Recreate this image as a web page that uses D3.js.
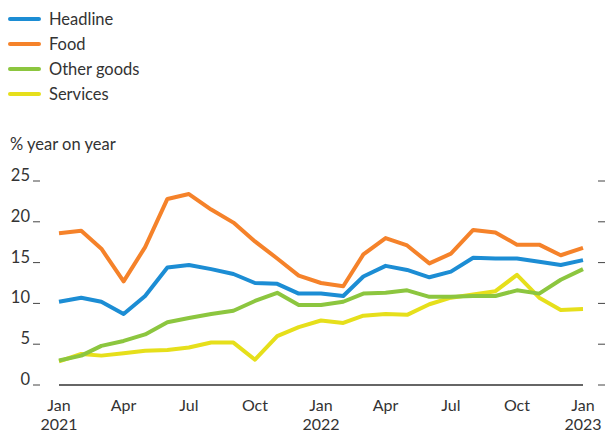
<!DOCTYPE html>
<html>
<head>
<meta charset="utf-8">
<script src="https://cdn.jsdelivr.net/npm/d3@7"></script>
<style>
  body { margin: 0; background: #fff; }
  text { font-family: Lato, "Open Sans", sans-serif; fill: #333; }
</style>
</head>
<body>
<div id="chart"></div>
<script>
// monthly, Jan 2021 - Jan 2023
let months = d3.range(25).map(i => new Date(2021, i, 1));

let headline = [10.2, 10.7, 10.2, 8.7, 10.9, 14.4, 14.7, 14.2, 13.6, 12.5, 12.4, 11.2,
    11.2, 10.9, 13.3, 14.6, 14.1, 13.2, 13.9, 15.6, 15.5, 15.5, 15.1, 14.7, 15.3];
let food = [18.6, 18.9, 16.7, 12.7, 16.9, 22.8, 23.4, 21.5, 19.9, 17.6, 15.5, 13.4,
    12.5, 12.1, 16.0, 18.0, 17.1, 14.9, 16.1, 19.0, 18.7, 17.2, 17.2, 15.9, 16.8];
let otherGoods = [3.0, 3.6, 4.8, 5.4, 6.2, 7.7, 8.2, 8.7, 9.1, 10.3, 11.3, 9.8,
    9.8, 10.2, 11.2, 11.3, 11.6, 10.8, 10.8, 10.9, 10.9, 11.6, 11.2, 12.9, 14.2];
let services = [2.9, 3.8, 3.6, 3.9, 4.2, 4.3, 4.6, 5.2, 5.2, 3.1, 6.0, 7.1,
    7.9, 7.6, 8.5, 8.7, 8.6, 9.9, 10.7, 11.1, 11.5, 13.5, 10.7, 9.2, 9.3];

let seriesNames = ["Headline", "Food", "Other goods", "Services"];
let seriesColors = ["#1c8dd4", "#f5822a", "#8cc63f", "#e6df1b"];
let yTicks = [0, 5, 10, 15, 20, 25];
let monthLabels = ["Jan", "Apr", "Jul", "Oct", "Jan", "Apr", "Jul", "Oct", "Jan"];
let yearLabels = ["2021", "", "", "", "2022", "", "", "", "2023"];

let series = [headline, food, otherGoods, services].map((vals, i) => ({
    name: seriesNames[i],
    color: seriesColors[i],
    values: vals.map((v, j) => ({date: months[j], value: v}))
}));

let width = 605, height = 435;
let svg = d3.select("#chart").append("svg")
    .attr("width", width)
    .attr("height", height);

let x = d3.scaleTime()
    .domain([months[0], months[24]])
    .range([59, 583]);

let y = d3.scaleLinear()
    .domain([0, 25])
    .range([385, 181]);

// legend
let legend = svg.append("g");
series.forEach((s, i) => {
    let ly = 19 + i * 25;
    legend.append("line")
        .attr("x1", 10).attr("x2", 39)
        .attr("y1", ly).attr("y2", ly)
        .attr("stroke", s.color)
        .attr("stroke-width", 4)
        .attr("stroke-linecap", "round");
    legend.append("text")
        .attr("x", 49).attr("y", ly + 6)
        .attr("font-size", 16.5)
        .text(s.name);
});

svg.append("text")
    .attr("x", 10).attr("y", 150)
    .attr("font-size", 16.5)
    .text("% year on year");

// y ticks left + right
let yg = svg.append("g");
yTicks.forEach(t => {
    yg.append("text")
        .attr("x", 30).attr("y", y(t))
        .attr("text-anchor", "end")
        .attr("font-size", 16.5)
        .text(t);
    yg.append("line")
        .attr("x1", 33).attr("x2", 40)
        .attr("y1", y(t)).attr("y2", y(t))
        .attr("stroke", "#444").attr("stroke-width", 1);
    yg.append("line")
        .attr("x1", 598).attr("x2", 605)
        .attr("y1", y(t)).attr("y2", y(t))
        .attr("stroke", "#444").attr("stroke-width", 1);
});

// baseline
svg.append("line")
    .attr("x1", x(months[0])).attr("x2", x(months[24]))
    .attr("y1", y(0)).attr("y2", y(0))
    .attr("stroke", "#333").attr("stroke-width", 1.5);

// x labels (quarterly)
let xg = svg.append("g");
monthLabels.forEach((lab, i) => {
    let xp = x(months[i * 3]);
    xg.append("text")
        .attr("x", xp).attr("y", 411)
        .attr("text-anchor", "middle")
        .attr("font-size", 16)
        .text(lab);
    if (yearLabels[i]) {
        xg.append("text")
            .attr("x", xp).attr("y", 430)
            .attr("text-anchor", "middle")
            .attr("font-size", 16)
            .text(yearLabels[i]);
    }
});

// lines
let line = d3.line()
    .x(d => x(d.date))
    .y(d => y(d.value));

svg.selectAll(".series")
    .data(series.slice().reverse())
    .enter()
    .append("path")
    .attr("class", "series")
    .attr("d", d => line(d.values))
    .attr("fill", "none")
    .attr("stroke", d => d.color)
    .attr("stroke-width", 4)
    .attr("stroke-linejoin", "round");
</script>
</body>
</html>
